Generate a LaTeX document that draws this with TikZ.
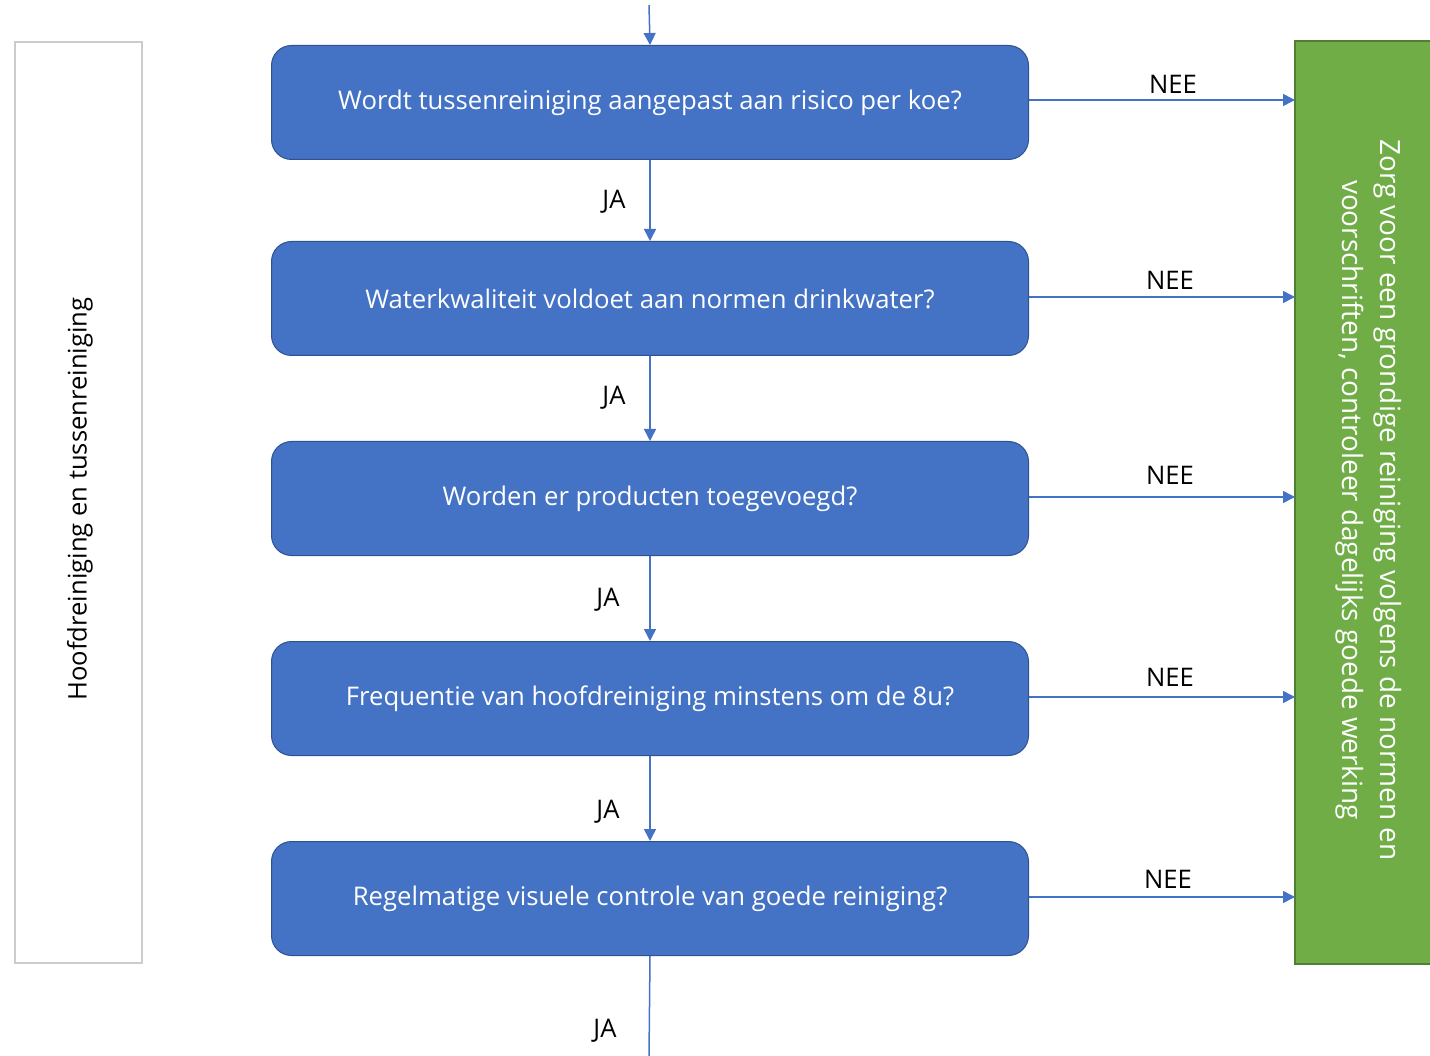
\documentclass[tikz,border=0pt]{standalone}
\usepackage{fontspec}
\setmainfont{Open Sans}
\usetikzlibrary{arrows.meta}
\definecolor{qblue}{HTML}{4472C4}
\definecolor{qblueline}{HTML}{2F528F}
\definecolor{qgreen}{HTML}{70AD47}
\definecolor{qgreenline}{HTML}{507E32}
\definecolor{qarrow}{HTML}{4472C4}
\tikzset{
  question/.style={draw=qblueline, line width=1pt, fill=qblue, rounded corners=20pt,
    minimum width=757pt, minimum height=114pt, text=white, font=\fontsize{25.7}{30}\selectfont,
    inner sep=0pt, anchor=north west},
  flow/.style={draw=qarrow, line width=1.5pt, -{Triangle[length=12pt,width=12pt]}},
  lbl/.style={font=\fontsize{25.6}{30}\selectfont, text=black, inner sep=0pt}
}
\begin{document}
\begin{tikzpicture}[x=1pt,y=-1pt]
\useasboundingbox (0,0) rectangle (1430,1056);
% left box
\node[draw=black!20, line width=2pt, minimum width=127pt, minimum height=921pt, anchor=north west, inner sep=0pt] (side) at (14,41) {};
\node[rotate=90, lbl] (sidetxt) at (80,499) {Hoofdreiniging en tussenreiniging};
% green box
\fill[qgreen] (1295,41) rectangle (1431,964);
\draw[qgreenline, line width=1.5pt] (1431,41) -- (1295,41) -- (1295,964) -- (1431,964);
\node[rotate=-90, lbl, text=white, align=center, font=\fontsize{27.9}{38}\selectfont] (gtxt) at (1369,500) {Zorg voor een grondige reiniging volgens de normen en\\ voorschriften, controleer dagelijks goede werking};
% questions
\node[question] (q1) at (271,45) {Wordt tussenreiniging aangepast aan risico per koe?};
\node[question] (q2) at (271,241) {Waterkwaliteit voldoet aan normen drinkwater?};
\node[question] (q3) at (271,441) {Worden er producten toegevoegd?};
\node[question] (q4) at (271,641) {Frequentie van hoofdreiniging minstens om de 8u?};
\node[question] (q5) at (271,841) {Regelmatige visuele controle van goede reiniging?};
% top
\coordinate (top) at (649,5);
\coordinate (bot) at (649,1057);
\draw[flow] (top) -- (q1.north);
\draw[flow] (q1.south) -- (q2.north);
\draw[flow] (q2.south) -- (q3.north);
\draw[flow] (q3.south) -- (q4.north);
\draw[flow] (q4.south) -- (q5.north);
\draw[draw=qarrow, line width=1.5pt] (q5.south) -- (bot);
% JA labels
\node[lbl] (ja1) at (614,202) {JA};
\node[lbl] (ja2) at (614,398) {JA};
\node[lbl] (ja3) at (608,600) {JA};
\node[lbl] (ja4) at (608,812) {JA};
\node[lbl] (ja5) at (605,1031) {JA};
% NEE arrows
\foreach \i/\y/\ly/\lx in {1/100/84/1173, 2/297/280/1170, 3/497/475/1170, 4/697/677/1170, 5/897/879/1168}{
  \coordinate (g\i) at (1295,\y);
  \draw[flow] (q\i.east |- g\i) -- (g\i);
  \node[lbl] (nee\i) at (\lx,\ly) {NEE};
}
\end{tikzpicture}
\end{document}
